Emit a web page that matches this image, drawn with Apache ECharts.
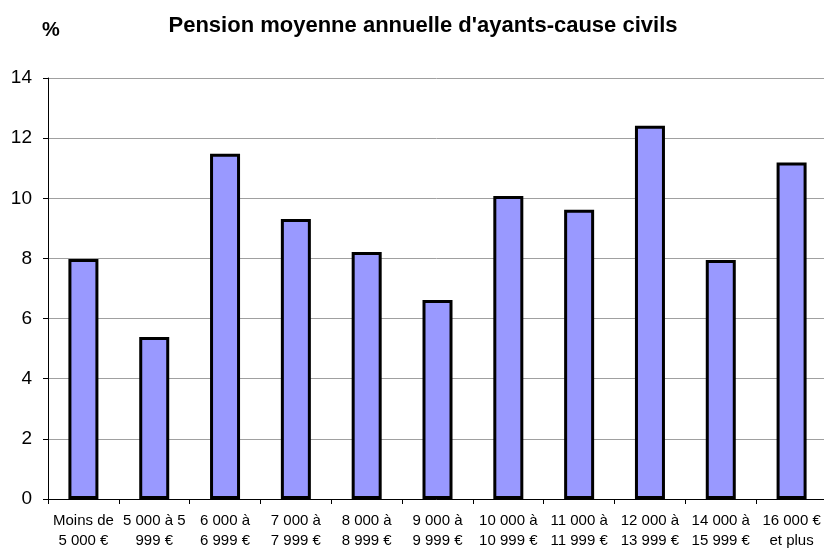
<!DOCTYPE html>
<html>
<head>
<meta charset="utf-8">
<script src="https://cdn.jsdelivr.net/npm/echarts@6/dist/echarts.min.js"></script>
<style>
  html, body { margin: 0; padding: 0; background: #fff; }
  #chart { width: 824px; height: 549px; }
</style>
</head>
<body>
<div id="chart"></div>
<script>
  // tranches de pension
  const categories = [
    'Moins de\n5 000 €', '5 000 à 5\n999 €', '6 000 à\n6 999 €', '7 000 à\n7 999 €',
    '8 000 à\n8 999 €', '9 000 à\n9 999 €', '10 000 à\n10 999 €', '11 000 à\n11 999 €',
    '12 000 à\n13 999 €', '14 000 à\n15 999 €', '16 000 €\net plus'
  ]
  // part en %
  const percentages = [7.98, 5.39, 11.48, 9.31, 8.21, 6.62, 10.08, 9.62, 12.41, 7.95, 11.19]
  const yTicks = [0, 2, 4, 6, 8, 10, 12, 14]

  const font = '"Liberation Sans", Arial, sans-serif'
  const chart = echarts.init(document.getElementById('chart'))

  chart.setOption({
    animation: false,
    title: [
      {
        text: "Pension moyenne annuelle d'ayants-cause civils",
        left: 418,
        top: 10,
        textAlign: 'center',
        textStyle: {fontFamily: font, fontSize: 22, fontWeight: 'bold', color: '#000', lineHeight: 22}
      },
      {
        text: '%',
        left: 46,
        top: 14,
        textAlign: 'center',
        textStyle: {fontFamily: font, fontSize: 20, fontWeight: 'bold', color: '#000', lineHeight: 22}
      }
    ],
    grid: {
      left: 48,
      right: -3,
      top: 78,
      bottom: 50,
      containLabel: false,
      outerBoundsMode: 'none'
    },
    xAxis: {
      type: 'category',
      data: categories,
      boundaryGap: true,
      axisLine: {lineStyle: {color: '#000', width: 1}},
      axisTick: {show: true, length: 5, lineStyle: {color: '#000'}},
      axisLabel: {
        interval: 0,
        margin: 12,
        fontFamily: font,
        fontSize: 15,
        lineHeight: 20,
        color: '#000'
      },
      splitLine: {show: false}
    },
    yAxis: {
      type: 'value',
      min: yTicks[0],
      max: yTicks[yTicks.length - 1],
      interval: 2,
      axisLine: {show: true, lineStyle: {color: '#000', width: 1}},
      axisTick: {show: true, length: 5, lineStyle: {color: '#000'}},
      axisLabel: {
        margin: 16,
        fontFamily: font,
        fontSize: 19,
        color: '#000'
      },
      splitLine: {show: true, lineStyle: {color: '#a0a0a0', width: 1}}
    },
    series: [
      {
        type: 'bar',
        data: percentages,
        barWidth: 30,
        itemStyle: {
          color: '#9999ff',
          borderColor: '#000',
          borderWidth: 3
        }
      }
    ]
  })
</script>
</body>
</html>
